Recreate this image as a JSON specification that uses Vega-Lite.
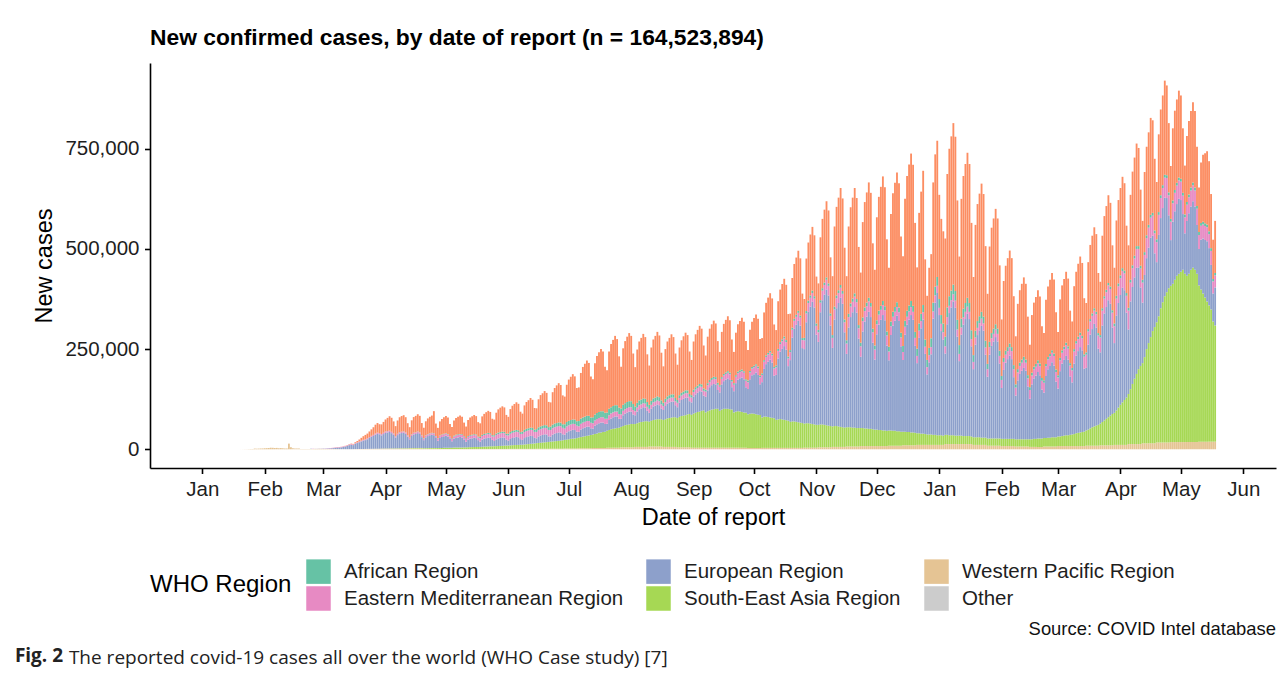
{
"$schema":"https://vega.github.io/schema/vega-lite/v6.json",
"padding":{"left":14,"right":8,"top":27,"bottom":4},
"config":{"font":"Liberation Sans","view":{"stroke":null},
"axis":{"grid":false,"domainColor":"#000","domainWidth":1.6,"tickColor":"#000","tickWidth":1.6,"tickSize":5.5,"labelFontSize":20.5,"labelColor":"#1e1e1e","titleFontSize":23.5,"titleFontWeight":"normal","titleColor":"#000"}},
"title":{"text":"Fig. 2","orient":"bottom","anchor":"start","font":"Open Sans","fontSize":19,"fontWeight":"bold","color":"#222","offset":0,"dx":-18,"dy":-21},
"resolve":{"scale":{"color":"independent"},"legend":{"color":"independent"}},
"vconcat":[{
"title":{"text":"The reported covid-19 cases all over the world (WHO Case study) [7]","orient":"bottom","anchor":"start","font":"Open Sans","fontSize":19,"fontWeight":"normal","color":"#222","offset":11,"dx":36},
"resolve":{"scale":{"color":"independent"},"legend":{"color":"independent"}},
"vconcat":[{
"title":{"text":"Source: COVID Intel database","orient":"bottom","anchor":"end","fontSize":18.4,"fontWeight":"normal","color":"#111","offset":9},
"resolve":{"scale":{"color":"independent"},"legend":{"color":"independent"}},
"vconcat":[{
"width":1126,"height":405,
"title":{"text":"New confirmed cases, by date of report (n = 164,523,894)","anchor":"start","frame":"group","fontSize":22.8,"fontWeight":"bold","color":"#000","offset":13},
"data":{"values":[
{"d":"2020-01-20","w":80},{"d":"2020-01-21","w":150},{"d":"2020-01-22","w":250},{"d":"2020-01-23","w":270},{"d":"2020-01-24","w":470},{"d":"2020-01-25","w":690},{"d":"2020-01-26","w":770},
{"d":"2020-01-27","w":1770},{"d":"2020-01-28","w":1460},{"d":"2020-01-29","w":1740},{"d":"2020-01-30","w":1980},{"d":"2020-01-31","w":2100},{"d":"2020-02-01","w":2590},{"d":"2020-02-02","w":2830},
{"d":"2020-02-03","w":3240},{"d":"2020-02-04","w":3880},{"d":"2020-02-05","w":3690},{"d":"2020-02-06","w":3140},{"d":"2020-02-07","w":3390,"o":40},{"d":"2020-02-08","w":2650},{"d":"2020-02-09","w":2970},
{"d":"2020-02-10","w":2470,"o":65},{"d":"2020-02-11","w":2020},{"d":"2020-02-12","w":2000},{"d":"2020-02-13","w":14110,"o":44},{"d":"2020-02-14","w":5090},{"d":"2020-02-15","w":2640,"o":67},{"d":"2020-02-16","w":2010,"o":70},
{"d":"2020-02-17","w":1900,"o":99},{"d":"2020-02-18","w":1800,"o":88},{"d":"2020-02-19","w":450,"o":79},{"d":"2020-02-20","w":950,"o":13},{"d":"2020-02-21","w":950},{"d":"2020-02-22","w":900},{"d":"2020-02-23","w":800},
{"d":"2020-02-24","w":1000,"e":70,"m":30},{"d":"2020-02-25","w":900,"e":100,"m":50},{"d":"2020-02-26","w":1000,"e":150,"m":100},{"d":"2020-02-27","w":900,"e":250,"m":150},{"d":"2020-02-28","w":1200,"e":300,"m":150},{"d":"2020-02-29","w":1000,"e":400,"m":200},{"d":"2020-03-01","w":1000,"e":600,"m":300},
{"d":"2020-03-02","w":800,"e":700,"m":400,"a":20},{"d":"2020-03-03","w":700,"e":1000,"m":600,"a":30},{"d":"2020-03-04","w":700,"e":1400,"m":700,"a":50},{"d":"2020-03-05","w":600,"e":1800,"m":900,"a":80},{"d":"2020-03-06","w":600,"e":2200,"m":1000,"a":100},{"d":"2020-03-07","w":600,"e":2800,"m":1100,"a":150},{"d":"2020-03-08","w":500,"e":3500,"m":1200,"a":200},
{"d":"2020-03-09","w":400,"s":10,"e":4000,"m":1000,"f":10,"a":200},{"d":"2020-03-10","w":300,"s":10,"e":4500,"m":1200,"f":10,"a":300},{"d":"2020-03-11","w":300,"s":20,"e":5500,"m":1300,"f":20,"a":400},{"d":"2020-03-12","w":300,"s":20,"e":6500,"m":1300,"f":20,"a":500},{"d":"2020-03-13","w":300,"s":20,"e":8000,"m":1400,"f":30,"a":700},{"d":"2020-03-14","w":300,"s":30,"e":10e3,"m":1500,"f":40,"a":900},{"d":"2020-03-15","w":300,"s":30,"e":11e3,"m":1600,"f":50,"a":1200},
{"d":"2020-03-16","w":400,"s":30,"e":10e3,"m":1500,"f":60,"a":1500},{"d":"2020-03-17","w":500,"s":50,"e":13e3,"m":1500,"f":80,"a":2500},{"d":"2020-03-18","w":500,"s":50,"e":15e3,"m":1600,"f":100,"a":3500},{"d":"2020-03-19","w":600,"s":60,"e":17e3,"m":1600,"f":120,"a":5000},{"d":"2020-03-20","w":700,"s":70,"e":19e3,"m":1700,"f":150,"a":7000},{"d":"2020-03-21","w":700,"s":80,"e":21e3,"m":1700,"f":180,"a":9000},{"d":"2020-03-22","w":800,"s":100,"e":22e3,"m":1800,"f":200,"a":11e3},
{"d":"2020-03-23","w":900,"s":100,"e":24e3,"m":2000,"f":200,"a":12e3},{"d":"2020-03-24","w":1000,"s":100,"e":27e3,"m":2200,"f":200,"a":14e3},{"d":"2020-03-25","w":1000,"s":150,"e":30e3,"m":2300,"f":250,"a":16e3},{"d":"2020-03-26","w":1100,"s":150,"e":32e3,"m":2500,"f":250,"a":19e3},{"d":"2020-03-27","w":1200,"s":200,"e":35e3,"m":2700,"f":300,"a":22e3},{"d":"2020-03-28","w":1200,"s":200,"e":37e3,"m":2800,"f":300,"a":24e3},{"d":"2020-03-29","w":1200,"s":250,"e":36e3,"m":2800,"f":300,"a":22e3},
{"d":"2020-03-30","w":1500,"s":300,"e":33e3,"m":3000,"f":400,"a":24e3},{"d":"2020-03-31","w":1500,"s":400,"e":36e3,"m":3000,"f":400,"a":27e3},{"d":"2020-04-01","w":1500,"s":500,"e":39e3,"m":3000,"f":400,"a":30e3},{"d":"2020-04-02","w":1500,"s":500,"e":40e3,"m":3000,"f":400,"a":33e3},{"d":"2020-04-03","w":1500,"s":600,"e":41e3,"m":3000,"f":400,"a":36e3},{"d":"2020-04-04","w":1500,"s":700,"e":38e3,"m":3000,"f":400,"a":35e3},{"d":"2020-04-05","w":1500,"s":700,"e":34e3,"m":3000,"f":400,"a":30e3},
{"d":"2020-04-06","w":1500,"s":800,"e":27e3,"m":3000,"f":500,"a":25e3},{"d":"2020-04-07","w":1500,"s":900,"e":33e3,"m":3000,"f":500,"a":33e3},{"d":"2020-04-08","w":1500,"s":1000,"e":37e3,"m":3000,"f":500,"a":37e3},{"d":"2020-04-09","w":1500,"s":1000,"e":38e3,"m":3000,"f":500,"a":39e3},{"d":"2020-04-10","w":1500,"s":1100,"e":39e3,"m":3000,"f":500,"a":40e3},{"d":"2020-04-11","w":1500,"s":1100,"e":36e3,"m":3000,"f":500,"a":38e3},{"d":"2020-04-12","w":1500,"s":1100,"e":29e3,"m":3000,"f":500,"a":30e3},
{"d":"2020-04-13","w":1800,"s":1200,"e":22e3,"m":3500,"f":700,"a":26e3},{"d":"2020-04-14","w":1800,"s":1300,"e":30e3,"m":3500,"f":700,"a":35e3},{"d":"2020-04-15","w":1800,"s":1400,"e":34e3,"m":3500,"f":700,"a":39e3},{"d":"2020-04-16","w":1800,"s":1400,"e":35e3,"m":3500,"f":700,"a":41e3},{"d":"2020-04-17","w":1800,"s":1500,"e":37e3,"m":3500,"f":700,"a":43e3},{"d":"2020-04-18","w":1800,"s":1500,"e":35e3,"m":3500,"f":700,"a":41e3},{"d":"2020-04-19","w":1800,"s":1500,"e":27e3,"m":3500,"f":700,"a":31e3},
{"d":"2020-04-20","w":1200,"s":1600,"e":20e3,"m":4000,"f":1000,"a":26e3},{"d":"2020-04-21","w":1200,"s":1700,"e":27e3,"m":4000,"f":1000,"a":35e3},{"d":"2020-04-22","w":1200,"s":1800,"e":30e3,"m":4000,"f":1000,"a":39e3},{"d":"2020-04-23","w":1200,"s":1900,"e":32e3,"m":4000,"f":1000,"a":41e3},{"d":"2020-04-24","w":1200,"s":2000,"e":33e3,"m":4000,"f":1000,"a":43e3},{"d":"2020-04-25","w":1200,"s":2000,"e":32e3,"m":4000,"f":1000,"a":55e3},{"d":"2020-04-26","w":1200,"s":2000,"e":25e3,"m":4000,"f":1000,"a":31e3},
{"d":"2020-04-27","w":1000,"s":2200,"e":18e3,"m":5000,"f":1300,"a":26e3},{"d":"2020-04-28","w":1000,"s":2300,"e":25e3,"m":5000,"f":1300,"a":35e3},{"d":"2020-04-29","w":1000,"s":2500,"e":27e3,"m":5000,"f":1300,"a":39e3},{"d":"2020-04-30","w":1000,"s":2600,"e":29e3,"m":5000,"f":1300,"a":41e3},{"d":"2020-05-01","w":1000,"s":2700,"e":30e3,"m":5000,"f":1300,"a":43e3},{"d":"2020-05-02","w":1000,"s":2800,"e":28e3,"m":5000,"f":1300,"a":41e3},{"d":"2020-05-03","w":1000,"s":2800,"e":22e3,"m":5000,"f":1300,"a":31e3},
{"d":"2020-05-04","w":900,"s":3000,"e":16e3,"m":6000,"f":1800,"a":28e3},{"d":"2020-05-05","w":900,"s":3300,"e":22e3,"m":6000,"f":1800,"a":38e3},{"d":"2020-05-06","w":900,"s":3500,"e":24e3,"m":6000,"f":1800,"a":42e3},{"d":"2020-05-07","w":900,"s":3600,"e":25e3,"m":6000,"f":1800,"a":44e3},{"d":"2020-05-08","w":900,"s":3700,"e":26e3,"m":6000,"f":1800,"a":46e3},{"d":"2020-05-09","w":900,"s":3800,"e":25e3,"m":6000,"f":1800,"a":44e3},{"d":"2020-05-10","w":900,"s":3900,"e":20e3,"m":6000,"f":1800,"a":34e3},
{"d":"2020-05-11","w":800,"s":4000,"e":14e3,"m":7000,"f":2000,"a":29e3},{"d":"2020-05-12","w":800,"s":4300,"e":19e3,"m":7000,"f":2000,"a":40e3},{"d":"2020-05-13","w":800,"s":4500,"e":21e3,"m":7000,"f":2000,"a":44e3},{"d":"2020-05-14","w":800,"s":4600,"e":22e3,"m":7000,"f":2000,"a":46e3},{"d":"2020-05-15","w":800,"s":4800,"e":23e3,"m":7000,"f":2000,"a":48e3},{"d":"2020-05-16","w":800,"s":5000,"e":22e3,"m":7000,"f":2000,"a":46e3},{"d":"2020-05-17","w":800,"s":5000,"e":17e3,"m":7000,"f":2000,"a":36e3},
{"d":"2020-05-18","w":800,"s":5200,"e":13e3,"m":9000,"f":2800,"a":34e3},{"d":"2020-05-19","w":800,"s":5500,"e":18e3,"m":9000,"f":2800,"a":46e3},{"d":"2020-05-20","w":800,"s":5800,"e":20e3,"m":9000,"f":2800,"a":50e3},{"d":"2020-05-21","w":800,"s":6000,"e":21e3,"m":9000,"f":2800,"a":53e3},{"d":"2020-05-22","w":800,"s":6300,"e":22e3,"m":9000,"f":2800,"a":55e3},{"d":"2020-05-23","w":800,"s":6600,"e":21e3,"m":9000,"f":2800,"a":53e3},{"d":"2020-05-24","w":800,"s":6600,"e":16e3,"m":9000,"f":2800,"a":41e3},
{"d":"2020-05-25","w":800,"s":6800,"e":13e3,"m":11e3,"f":3500,"a":39e3},{"d":"2020-05-26","w":800,"s":7000,"e":17e3,"m":11e3,"f":3500,"a":52e3},{"d":"2020-05-27","w":800,"s":7300,"e":19e3,"m":11e3,"f":3500,"a":58e3},{"d":"2020-05-28","w":800,"s":7600,"e":20e3,"m":11e3,"f":3500,"a":61e3},{"d":"2020-05-29","w":800,"s":7900,"e":21e3,"m":11e3,"f":3500,"a":63e3},{"d":"2020-05-30","w":800,"s":8200,"e":20e3,"m":11e3,"f":3500,"a":61e3},{"d":"2020-05-31","w":800,"s":8500,"e":15e3,"m":11e3,"f":3500,"a":47e3},
{"d":"2020-06-01","w":1000,"s":8500,"e":12e3,"m":13e3,"f":4500,"a":42e3},{"d":"2020-06-02","w":1000,"s":8800,"e":16e3,"m":13e3,"f":4500,"a":57e3},{"d":"2020-06-03","w":1000,"s":9200,"e":18e3,"m":13e3,"f":4500,"a":63e3},{"d":"2020-06-04","w":1000,"s":9500,"e":19e3,"m":13e3,"f":4500,"a":66e3},{"d":"2020-06-05","w":1000,"s":9800,"e":20e3,"m":13e3,"f":4500,"a":69e3},{"d":"2020-06-06","w":1000,"s":10e3,"e":19e3,"m":13e3,"f":4500,"a":66e3},{"d":"2020-06-07","w":1000,"s":10300,"e":14e3,"m":13e3,"f":4500,"a":51e3},
{"d":"2020-06-08","w":1000,"s":10500,"e":12e3,"m":15e3,"f":5500,"a":45e3},{"d":"2020-06-09","w":1000,"s":11e3,"e":16e3,"m":15e3,"f":5500,"a":61e3},{"d":"2020-06-10","w":1000,"s":11500,"e":18e3,"m":15e3,"f":5500,"a":67e3},{"d":"2020-06-11","w":1000,"s":12e3,"e":19e3,"m":15e3,"f":5500,"a":70e3},{"d":"2020-06-12","w":1000,"s":12500,"e":20e3,"m":15e3,"f":5500,"a":74e3},{"d":"2020-06-13","w":1000,"s":13e3,"e":19e3,"m":15e3,"f":5500,"a":70e3},{"d":"2020-06-14","w":1000,"s":13500,"e":14e3,"m":15e3,"f":5500,"a":54e3},
{"d":"2020-06-15","w":1300,"s":14e3,"e":12e3,"m":16e3,"f":7000,"a":52e3},{"d":"2020-06-16","w":1300,"s":14500,"e":16e3,"m":16e3,"f":7000,"a":70e3},{"d":"2020-06-17","w":1300,"s":15e3,"e":18e3,"m":16e3,"f":7000,"a":78e3},{"d":"2020-06-18","w":1300,"s":15500,"e":19e3,"m":16e3,"f":7000,"a":81e3},{"d":"2020-06-19","w":1300,"s":16e3,"e":20e3,"m":16e3,"f":7000,"a":85e3},{"d":"2020-06-20","w":1300,"s":16500,"e":19e3,"m":16e3,"f":7000,"a":81e3},{"d":"2020-06-21","w":1300,"s":17e3,"e":14e3,"m":16e3,"f":7000,"a":63e3},
{"d":"2020-06-22","w":1500,"s":17500,"e":13e3,"m":16e3,"f":9000,"a":60e3},{"d":"2020-06-23","w":1500,"s":18e3,"e":17e3,"m":16e3,"f":9000,"a":81e3},{"d":"2020-06-24","w":1500,"s":18500,"e":19e3,"m":16e3,"f":9000,"a":89e3},{"d":"2020-06-25","w":1500,"s":19e3,"e":20e3,"m":16e3,"f":9000,"a":94e3},{"d":"2020-06-26","w":1500,"s":19500,"e":21e3,"m":16e3,"f":9000,"a":98e3},{"d":"2020-06-27","w":1500,"s":20e3,"e":20e3,"m":16e3,"f":9000,"a":94e3},{"d":"2020-06-28","w":1500,"s":21e3,"e":15e3,"m":16e3,"f":9000,"a":72e3},
{"d":"2020-06-29","w":2000,"s":21500,"e":13e3,"m":15e3,"f":11e3,"a":69e3},{"d":"2020-06-30","w":2000,"s":22e3,"e":18e3,"m":15e3,"f":11e3,"a":93e3},{"d":"2020-07-01","w":2000,"s":23e3,"e":20e3,"m":15e3,"f":11e3,"a":103e3},{"d":"2020-07-02","w":2000,"s":24e3,"e":21e3,"m":15e3,"f":11e3,"a":108e3},{"d":"2020-07-03","w":2000,"s":24500,"e":22e3,"m":15e3,"f":11e3,"a":113e3},{"d":"2020-07-04","w":2000,"s":25e3,"e":21e3,"m":15e3,"f":11e3,"a":108e3},{"d":"2020-07-05","w":2000,"s":26e3,"e":16e3,"m":15e3,"f":11e3,"a":83e3},
{"d":"2020-07-06","w":2500,"s":27e3,"e":14e3,"m":14e3,"f":13e3,"a":84e3},{"d":"2020-07-07","w":2500,"s":28e3,"e":19e3,"m":14e3,"f":13e3,"a":114e3},{"d":"2020-07-08","w":2500,"s":29e3,"e":21e3,"m":14e3,"f":13e3,"a":126e3},{"d":"2020-07-09","w":2500,"s":30e3,"e":22e3,"m":14e3,"f":13e3,"a":132e3},{"d":"2020-07-10","w":2500,"s":31e3,"e":23e3,"m":14e3,"f":13e3,"a":138e3},{"d":"2020-07-11","w":2500,"s":32e3,"e":22e3,"m":14e3,"f":13e3,"a":132e3},{"d":"2020-07-12","w":2500,"s":33e3,"e":17e3,"m":14e3,"f":13e3,"a":102e3},
{"d":"2020-07-13","w":3000,"s":34e3,"e":15e3,"m":13e3,"f":15e3,"a":95e3},{"d":"2020-07-14","w":3000,"s":35e3,"e":21e3,"m":13e3,"f":15e3,"a":128e3},{"d":"2020-07-15","w":3000,"s":36500,"e":23e3,"m":13e3,"f":15e3,"a":142e3},{"d":"2020-07-16","w":3000,"s":38e3,"e":24e3,"m":13e3,"f":15e3,"a":149e3},{"d":"2020-07-17","w":3000,"s":39e3,"e":25e3,"m":13e3,"f":15e3,"a":155e3},{"d":"2020-07-18","w":3000,"s":40e3,"e":24e3,"m":13e3,"f":15e3,"a":149e3},{"d":"2020-07-19","w":3000,"s":41e3,"e":19e3,"m":13e3,"f":15e3,"a":115e3},
{"d":"2020-07-20","w":4000,"s":42e3,"e":18e3,"m":12e3,"f":16e3,"a":105e3},{"d":"2020-07-21","w":4000,"s":44e3,"e":25e3,"m":12e3,"f":16e3,"a":143e3},{"d":"2020-07-22","w":4000,"s":46e3,"e":27e3,"m":12e3,"f":16e3,"a":158e3},{"d":"2020-07-23","w":4000,"s":47e3,"e":29e3,"m":12e3,"f":16e3,"a":165e3},{"d":"2020-07-24","w":4000,"s":48e3,"e":30e3,"m":12e3,"f":16e3,"a":173e3},{"d":"2020-07-25","w":4000,"s":49e3,"e":29e3,"m":12e3,"f":16e3,"a":165e3},{"d":"2020-07-26","w":4000,"s":50e3,"e":22e3,"m":12e3,"f":16e3,"a":128e3},
{"d":"2020-07-27","w":5000,"s":51e3,"e":20e3,"m":11e3,"f":15e3,"a":104e3},{"d":"2020-07-28","w":5000,"s":53e3,"e":27e3,"m":11e3,"f":15e3,"a":141e3},{"d":"2020-07-29","w":5000,"s":55e3,"e":29e3,"m":11e3,"f":15e3,"a":155e3},{"d":"2020-07-30","w":5000,"s":56e3,"e":31e3,"m":11e3,"f":15e3,"a":163e3},{"d":"2020-07-31","w":5000,"s":57e3,"e":32e3,"m":11e3,"f":15e3,"a":170e3},{"d":"2020-08-01","w":5000,"s":58e3,"e":31e3,"m":11e3,"f":15e3,"a":163e3},{"d":"2020-08-02","w":5000,"s":58e3,"e":24e3,"m":11e3,"f":15e3,"a":126e3},
{"d":"2020-08-03","w":6000,"s":57e3,"e":22e3,"m":10e3,"f":12e3,"a":98e3},{"d":"2020-08-04","w":6000,"s":59e3,"e":29e3,"m":10e3,"f":12e3,"a":133e3},{"d":"2020-08-05","w":6000,"s":61e3,"e":33e3,"m":10e3,"f":12e3,"a":147e3},{"d":"2020-08-06","w":6000,"s":62e3,"e":34e3,"m":10e3,"f":12e3,"a":154e3},{"d":"2020-08-07","w":6000,"s":63e3,"e":36e3,"m":10e3,"f":12e3,"a":161e3},{"d":"2020-08-08","w":6000,"s":64e3,"e":34e3,"m":10e3,"f":12e3,"a":154e3},{"d":"2020-08-09","w":6000,"s":64e3,"e":26e3,"m":10e3,"f":12e3,"a":119e3},
{"d":"2020-08-10","w":7000,"s":62e3,"e":22e3,"m":10e3,"f":10e3,"a":98e3},{"d":"2020-08-11","w":7000,"s":64e3,"e":30e3,"m":10e3,"f":10e3,"a":133e3},{"d":"2020-08-12","w":7000,"s":66e3,"e":34e3,"m":10e3,"f":10e3,"a":147e3},{"d":"2020-08-13","w":7000,"s":67e3,"e":35e3,"m":10e3,"f":10e3,"a":154e3},{"d":"2020-08-14","w":7000,"s":68e3,"e":37e3,"m":10e3,"f":10e3,"a":161e3},{"d":"2020-08-15","w":7000,"s":68e3,"e":35e3,"m":10e3,"f":10e3,"a":154e3},{"d":"2020-08-16","w":7000,"s":68e3,"e":27e3,"m":10e3,"f":10e3,"a":119e3},
{"d":"2020-08-17","w":6000,"s":67e3,"e":25e3,"m":10e3,"f":8000,"a":91e3},{"d":"2020-08-18","w":6000,"s":69e3,"e":33e3,"m":10e3,"f":8000,"a":124e3},{"d":"2020-08-19","w":6000,"s":71e3,"e":37e3,"m":10e3,"f":8000,"a":137e3},{"d":"2020-08-20","w":6000,"s":72e3,"e":39e3,"m":10e3,"f":8000,"a":143e3},{"d":"2020-08-21","w":6000,"s":73e3,"e":40e3,"m":10e3,"f":8000,"a":150e3},{"d":"2020-08-22","w":6000,"s":74e3,"e":39e3,"m":10e3,"f":8000,"a":143e3},{"d":"2020-08-23","w":6000,"s":74e3,"e":30e3,"m":10e3,"f":8000,"a":111e3},
{"d":"2020-08-24","w":5000,"s":73e3,"e":27e3,"m":11e3,"f":7000,"a":88e3},{"d":"2020-08-25","w":5000,"s":76e3,"e":36e3,"m":11e3,"f":7000,"a":119e3},{"d":"2020-08-26","w":5000,"s":78e3,"e":40e3,"m":11e3,"f":7000,"a":131e3},{"d":"2020-08-27","w":5000,"s":79e3,"e":42e3,"m":11e3,"f":7000,"a":138e3},{"d":"2020-08-28","w":5000,"s":80e3,"e":44e3,"m":11e3,"f":7000,"a":144e3},{"d":"2020-08-29","w":5000,"s":82e3,"e":42e3,"m":11e3,"f":7000,"a":138e3},{"d":"2020-08-30","w":5000,"s":83e3,"e":32e3,"m":11e3,"f":7000,"a":106e3},
{"d":"2020-08-31","w":4000,"s":82e3,"e":31e3,"m":12e3,"f":6000,"a":88e3},{"d":"2020-09-01","w":4000,"s":85e3,"e":42e3,"m":12e3,"f":6000,"a":120e3},{"d":"2020-09-02","w":4000,"s":87e3,"e":46e3,"m":12e3,"f":6000,"a":132e3},{"d":"2020-09-03","w":4000,"s":89e3,"e":48e3,"m":12e3,"f":6000,"a":139e3},{"d":"2020-09-04","w":4000,"s":90e3,"e":51e3,"m":12e3,"f":6000,"a":145e3},{"d":"2020-09-05","w":4000,"s":92e3,"e":48e3,"m":12e3,"f":6000,"a":139e3},{"d":"2020-09-06","w":4000,"s":93e3,"e":37e3,"m":12e3,"f":6000,"a":107e3},
{"d":"2020-09-07","w":4000,"s":88e3,"e":39e3,"m":13e3,"f":5000,"a":85e3},{"d":"2020-09-08","w":4000,"s":91e3,"e":52e3,"m":13e3,"f":5000,"a":116e3},{"d":"2020-09-09","w":4000,"s":93e3,"e":58e3,"m":13e3,"f":5000,"a":128e3},{"d":"2020-09-10","w":4000,"s":95e3,"e":61e3,"m":13e3,"f":5000,"a":134e3},{"d":"2020-09-11","w":4000,"s":96e3,"e":63e3,"m":13e3,"f":5000,"a":140e3},{"d":"2020-09-12","w":4000,"s":97e3,"e":61e3,"m":13e3,"f":5000,"a":134e3},{"d":"2020-09-13","w":4000,"s":97e3,"e":47e3,"m":13e3,"f":5000,"a":104e3},
{"d":"2020-09-14","w":4000,"s":92e3,"e":46e3,"m":14e3,"f":4000,"a":83e3},{"d":"2020-09-15","w":4000,"s":95e3,"e":63e3,"m":14e3,"f":4000,"a":113e3},{"d":"2020-09-16","w":4000,"s":97e3,"e":69e3,"m":14e3,"f":4000,"a":125e3},{"d":"2020-09-17","w":4000,"s":97e3,"e":73e3,"m":14e3,"f":4000,"a":131e3},{"d":"2020-09-18","w":4000,"s":97e3,"e":76e3,"m":14e3,"f":4000,"a":137e3},{"d":"2020-09-19","w":4000,"s":96e3,"e":73e3,"m":14e3,"f":4000,"a":131e3},{"d":"2020-09-20","w":4000,"s":95e3,"e":56e3,"m":14e3,"f":4000,"a":101e3},
{"d":"2020-09-21","w":4000,"s":88e3,"e":53e3,"m":16e3,"f":4000,"a":78e3},{"d":"2020-09-22","w":4000,"s":90e3,"e":71e3,"m":16e3,"f":4000,"a":106e3},{"d":"2020-09-23","w":4000,"s":91e3,"e":79e3,"m":16e3,"f":4000,"a":118e3},{"d":"2020-09-24","w":4000,"s":90e3,"e":83e3,"m":16e3,"f":4000,"a":123e3},{"d":"2020-09-25","w":4000,"s":89e3,"e":86e3,"m":16e3,"f":4000,"a":129e3},{"d":"2020-09-26","w":4000,"s":88e3,"e":83e3,"m":16e3,"f":4000,"a":123e3},{"d":"2020-09-27","w":4000,"s":87e3,"e":64e3,"m":16e3,"f":4000,"a":95e3},
{"d":"2020-09-28","w":3500,"s":84e3,"e":63e3,"m":17e3,"f":4000,"a":76e3},{"d":"2020-09-29","w":3500,"s":85e3,"e":86e3,"m":17e3,"f":4000,"a":103e3},{"d":"2020-09-30","w":3500,"s":86e3,"e":95e3,"m":17e3,"f":4000,"a":113e3},{"d":"2020-10-01","w":3500,"s":85e3,"e":99e3,"m":17e3,"f":4000,"a":119e3},{"d":"2020-10-02","w":3500,"s":84e3,"e":104e3,"m":17e3,"f":4000,"a":124e3},{"d":"2020-10-03","w":3500,"s":83e3,"e":99e3,"m":17e3,"f":4000,"a":119e3},{"d":"2020-10-04","w":3500,"s":82e3,"e":77e3,"m":17e3,"f":4000,"a":92e3},
{"d":"2020-10-05","w":3500,"s":76e3,"e":88e3,"m":18e3,"f":4000,"a":88e3},{"d":"2020-10-06","w":3500,"s":78e3,"e":119e3,"m":18e3,"f":4000,"a":119e3},{"d":"2020-10-07","w":3500,"s":78e3,"e":131e3,"m":18e3,"f":4000,"a":131e3},{"d":"2020-10-08","w":3500,"s":77e3,"e":138e3,"m":18e3,"f":4000,"a":138e3},{"d":"2020-10-09","w":3500,"s":76e3,"e":144e3,"m":18e3,"f":4000,"a":144e3},{"d":"2020-10-10","w":3500,"s":75e3,"e":138e3,"m":18e3,"f":4000,"a":138e3},{"d":"2020-10-11","w":3500,"s":74e3,"e":106e3,"m":18e3,"f":4000,"a":106e3},
{"d":"2020-10-12","w":3500,"s":70e3,"e":112e3,"m":19e3,"f":5000,"a":88e3},{"d":"2020-10-13","w":3500,"s":71e3,"e":152e3,"m":19e3,"f":5000,"a":119e3},{"d":"2020-10-14","w":3500,"s":72e3,"e":168e3,"m":19e3,"f":5000,"a":131e3},{"d":"2020-10-15","w":3500,"s":71e3,"e":176e3,"m":19e3,"f":5000,"a":138e3},{"d":"2020-10-16","w":3500,"s":70e3,"e":184e3,"m":19e3,"f":5000,"a":144e3},{"d":"2020-10-17","w":3500,"s":69e3,"e":176e3,"m":19e3,"f":5000,"a":138e3},{"d":"2020-10-18","w":3500,"s":68e3,"e":136e3,"m":19e3,"f":5000,"a":106e3},
{"d":"2020-10-19","w":3500,"s":65e3,"e":154e3,"m":20e3,"f":5000,"a":91e3},{"d":"2020-10-20","w":3500,"s":66e3,"e":209e3,"m":20e3,"f":5000,"a":124e3},{"d":"2020-10-21","w":3500,"s":66e3,"e":231e3,"m":20e3,"f":5000,"a":137e3},{"d":"2020-10-22","w":3500,"s":65e3,"e":242e3,"m":20e3,"f":5000,"a":143e3},{"d":"2020-10-23","w":3500,"s":64e3,"e":253e3,"m":20e3,"f":5000,"a":150e3},{"d":"2020-10-24","w":3500,"s":63e3,"e":242e3,"m":20e3,"f":5000,"a":143e3},{"d":"2020-10-25","w":3500,"s":62e3,"e":187e3,"m":20e3,"f":5000,"a":111e3},
{"d":"2020-10-26","w":4000,"s":60e3,"e":186e3,"m":22e3,"f":6000,"a":97e3},{"d":"2020-10-27","w":4000,"s":61e3,"e":252e3,"m":22e3,"f":6000,"a":131e3},{"d":"2020-10-28","w":4000,"s":61e3,"e":278e3,"m":22e3,"f":6000,"a":145e3},{"d":"2020-10-29","w":4000,"s":60e3,"e":292e3,"m":22e3,"f":6000,"a":152e3},{"d":"2020-10-30","w":4000,"s":59e3,"e":305e3,"m":22e3,"f":6000,"a":159e3},{"d":"2020-10-31","w":4000,"s":58e3,"e":292e3,"m":22e3,"f":6000,"a":152e3},{"d":"2020-11-01","w":4000,"s":57e3,"e":225e3,"m":22e3,"f":6000,"a":117e3},
{"d":"2020-11-02","w":5000,"s":56e3,"e":207e3,"m":24e3,"f":6000,"a":116e3},{"d":"2020-11-03","w":5000,"s":57e3,"e":280e3,"m":24e3,"f":6000,"a":157e3},{"d":"2020-11-04","w":5000,"s":57e3,"e":310e3,"m":24e3,"f":6000,"a":173e3},{"d":"2020-11-05","w":5000,"s":56e3,"e":325e3,"m":24e3,"f":6000,"a":182e3},{"d":"2020-11-06","w":5000,"s":55e3,"e":339e3,"m":24e3,"f":6000,"a":190e3},{"d":"2020-11-07","w":5000,"s":54e3,"e":325e3,"m":24e3,"f":6000,"a":182e3},{"d":"2020-11-08","w":5000,"s":53e3,"e":251e3,"m":24e3,"f":6000,"a":140e3},
{"d":"2020-11-09","w":6000,"s":51e3,"e":196e3,"m":25e3,"f":7000,"a":147e3},{"d":"2020-11-10","w":6000,"s":52e3,"e":266e3,"m":25e3,"f":7000,"a":200e3},{"d":"2020-11-11","w":6000,"s":52e3,"e":294e3,"m":25e3,"f":7000,"a":221e3},{"d":"2020-11-12","w":6000,"s":51e3,"e":308e3,"m":25e3,"f":7000,"a":231e3},{"d":"2020-11-13","w":6000,"s":50e3,"e":322e3,"m":25e3,"f":7000,"a":242e3},{"d":"2020-11-14","w":6000,"s":49e3,"e":308e3,"m":25e3,"f":7000,"a":231e3},{"d":"2020-11-15","w":6000,"s":48e3,"e":238e3,"m":25e3,"f":7000,"a":179e3},
{"d":"2020-11-16","w":7000,"s":48e3,"e":183e3,"m":26e3,"f":8000,"a":160e3},{"d":"2020-11-17","w":7000,"s":48e3,"e":249e3,"m":26e3,"f":8000,"a":218e3},{"d":"2020-11-18","w":7000,"s":48e3,"e":275e3,"m":26e3,"f":8000,"a":240e3},{"d":"2020-11-19","w":7000,"s":47e3,"e":288e3,"m":26e3,"f":8000,"a":252e3},{"d":"2020-11-20","w":7000,"s":47e3,"e":301e3,"m":26e3,"f":8000,"a":263e3},{"d":"2020-11-21","w":7000,"s":46e3,"e":288e3,"m":26e3,"f":8000,"a":252e3},{"d":"2020-11-22","w":7000,"s":46e3,"e":223e3,"m":26e3,"f":8000,"a":195e3},
{"d":"2020-11-23","w":8000,"s":45e3,"e":178e3,"m":26e3,"f":9000,"a":175e3},{"d":"2020-11-24","w":8000,"s":45e3,"e":241e3,"m":26e3,"f":9000,"a":238e3},{"d":"2020-11-25","w":8000,"s":44e3,"e":267e3,"m":26e3,"f":9000,"a":263e3},{"d":"2020-11-26","w":8000,"s":44e3,"e":279e3,"m":26e3,"f":9000,"a":275e3},{"d":"2020-11-27","w":8000,"s":43e3,"e":292e3,"m":26e3,"f":9000,"a":288e3},{"d":"2020-11-28","w":8000,"s":43e3,"e":279e3,"m":26e3,"f":9000,"a":275e3},{"d":"2020-11-29","w":8000,"s":42e3,"e":216e3,"m":26e3,"f":9000,"a":213e3},
{"d":"2020-11-30","w":8000,"s":41e3,"e":175e3,"m":25e3,"f":10e3,"a":189e3},{"d":"2020-12-01","w":8000,"s":41e3,"e":238e3,"m":25e3,"f":10e3,"a":257e3},{"d":"2020-12-02","w":8000,"s":40e3,"e":263e3,"m":25e3,"f":10e3,"a":284e3},{"d":"2020-12-03","w":8000,"s":40e3,"e":275e3,"m":25e3,"f":10e3,"a":297e3},{"d":"2020-12-04","w":8000,"s":39e3,"e":288e3,"m":25e3,"f":10e3,"a":311e3},{"d":"2020-12-05","w":8000,"s":39e3,"e":275e3,"m":25e3,"f":10e3,"a":297e3},{"d":"2020-12-06","w":8000,"s":38e3,"e":213e3,"m":25e3,"f":10e3,"a":230e3},
{"d":"2020-12-07","w":9000,"s":38e3,"e":175e3,"m":22e3,"f":12e3,"a":197e3},{"d":"2020-12-08","w":9000,"s":38e3,"e":238e3,"m":22e3,"f":12e3,"a":268e3},{"d":"2020-12-09","w":9000,"s":37e3,"e":263e3,"m":22e3,"f":12e3,"a":296e3},{"d":"2020-12-10","w":9000,"s":37e3,"e":275e3,"m":22e3,"f":12e3,"a":310e3},{"d":"2020-12-11","w":9000,"s":36e3,"e":288e3,"m":22e3,"f":12e3,"a":324e3},{"d":"2020-12-12","w":9000,"s":36e3,"e":275e3,"m":22e3,"f":12e3,"a":310e3},{"d":"2020-12-13","w":9000,"s":35e3,"e":213e3,"m":22e3,"f":12e3,"a":240e3},
{"d":"2020-12-14","w":10e3,"s":34e3,"e":179e3,"m":20e3,"f":15e3,"a":224e3},{"d":"2020-12-15","w":10e3,"s":34e3,"e":242e3,"m":20e3,"f":15e3,"a":304e3},{"d":"2020-12-16","w":10e3,"s":33e3,"e":268e3,"m":20e3,"f":15e3,"a":336e3},{"d":"2020-12-17","w":10e3,"s":33e3,"e":281e3,"m":20e3,"f":15e3,"a":352e3},{"d":"2020-12-18","w":10e3,"s":32e3,"e":293e3,"m":20e3,"f":15e3,"a":368e3},{"d":"2020-12-19","w":10e3,"s":32e3,"e":281e3,"m":20e3,"f":15e3,"a":352e3},{"d":"2020-12-20","w":10e3,"s":31e3,"e":217e3,"m":20e3,"f":15e3,"a":272e3},
{"d":"2020-12-21","w":11e3,"s":29e3,"e":175e3,"m":18e3,"f":18e3,"a":203e3},{"d":"2020-12-22","w":11e3,"s":29e3,"e":238e3,"m":18e3,"f":18e3,"a":276e3},{"d":"2020-12-23","w":11e3,"s":28e3,"e":263e3,"m":18e3,"f":18e3,"a":305e3},{"d":"2020-12-24","w":11e3,"s":28e3,"e":285e3,"m":18e3,"f":18e3,"a":335e3},{"d":"2020-12-25","w":11e3,"s":27e3,"e":200e3,"m":18e3,"f":18e3,"a":200e3},{"d":"2020-12-26","w":11e3,"s":26e3,"e":150e3,"m":18e3,"f":18e3,"a":160e3},{"d":"2020-12-27","w":11e3,"s":26e3,"e":180e3,"m":18e3,"f":18e3,"a":200e3},
{"d":"2020-12-28","w":11e3,"s":26e3,"e":200e3,"m":18e3,"f":22e3,"a":210e3},{"d":"2020-12-29","w":11e3,"s":25e3,"e":290e3,"m":18e3,"f":22e3,"a":300e3},{"d":"2020-12-30","w":11e3,"s":25e3,"e":330e3,"m":18e3,"f":22e3,"a":330e3},{"d":"2020-12-31","w":11e3,"s":24e3,"e":355e3,"m":18e3,"f":22e3,"a":340e3},{"d":"2021-01-01","w":11e3,"s":24e3,"e":300e3,"m":18e3,"f":22e3,"a":260e3},{"d":"2021-01-02","w":11e3,"s":24e3,"e":260e3,"m":18e3,"f":22e3,"a":240e3},{"d":"2021-01-03","w":11e3,"s":23e3,"e":240e3,"m":18e3,"f":22e3,"a":230e3},
{"d":"2021-01-04","w":13e3,"s":23e3,"e":203e3,"m":18e3,"f":24e3,"a":245e3},{"d":"2021-01-05","w":13e3,"s":23e3,"e":276e3,"m":18e3,"f":24e3,"a":333e3},{"d":"2021-01-06","w":13e3,"s":22e3,"e":305e3,"m":18e3,"f":24e3,"a":368e3},{"d":"2021-01-07","w":13e3,"s":22e3,"e":319e3,"m":18e3,"f":24e3,"a":385e3},{"d":"2021-01-08","w":13e3,"s":22e3,"e":334e3,"m":18e3,"f":24e3,"a":403e3},{"d":"2021-01-09","w":13e3,"s":21e3,"e":319e3,"m":18e3,"f":24e3,"a":385e3},{"d":"2021-01-10","w":13e3,"s":21e3,"e":247e3,"m":18e3,"f":24e3,"a":298e3},
{"d":"2021-01-11","w":13e3,"s":21e3,"e":186e3,"m":18e3,"f":22e3,"a":221e3},{"d":"2021-01-12","w":13e3,"s":21e3,"e":252e3,"m":18e3,"f":22e3,"a":299e3},{"d":"2021-01-13","w":13e3,"s":20e3,"e":278e3,"m":18e3,"f":22e3,"a":331e3},{"d":"2021-01-14","w":13e3,"s":20e3,"e":292e3,"m":18e3,"f":22e3,"a":347e3},{"d":"2021-01-15","w":13e3,"s":20e3,"e":305e3,"m":18e3,"f":22e3,"a":362e3},{"d":"2021-01-16","w":13e3,"s":20e3,"e":292e3,"m":18e3,"f":22e3,"a":347e3},{"d":"2021-01-17","w":13e3,"s":19e3,"e":225e3,"m":18e3,"f":22e3,"a":268e3},
{"d":"2021-01-18","w":11e3,"s":19e3,"e":170e3,"m":18e3,"f":17e3,"a":195e3},{"d":"2021-01-19","w":11e3,"s":19e3,"e":231e3,"m":18e3,"f":17e3,"a":264e3},{"d":"2021-01-20","w":11e3,"s":19e3,"e":255e3,"m":18e3,"f":17e3,"a":292e3},{"d":"2021-01-21","w":11e3,"s":19e3,"e":267e3,"m":18e3,"f":17e3,"a":306e3},{"d":"2021-01-22","w":11e3,"s":18e3,"e":279e3,"m":18e3,"f":17e3,"a":320e3},{"d":"2021-01-23","w":11e3,"s":18e3,"e":267e3,"m":18e3,"f":17e3,"a":306e3},{"d":"2021-01-24","w":11e3,"s":18e3,"e":207e3,"m":18e3,"f":17e3,"a":236e3},
{"d":"2021-01-25","w":9000,"s":18e3,"e":154e3,"m":19e3,"f":13e3,"a":175e3},{"d":"2021-01-26","w":9000,"s":18e3,"e":209e3,"m":19e3,"f":13e3,"a":238e3},{"d":"2021-01-27","w":9000,"s":18e3,"e":231e3,"m":19e3,"f":13e3,"a":263e3},{"d":"2021-01-28","w":9000,"s":18e3,"e":242e3,"m":19e3,"f":13e3,"a":275e3},{"d":"2021-01-29","w":9000,"s":18e3,"e":253e3,"m":19e3,"f":13e3,"a":288e3},{"d":"2021-01-30","w":9000,"s":18e3,"e":242e3,"m":19e3,"f":13e3,"a":275e3},{"d":"2021-01-31","w":9000,"s":18e3,"e":187e3,"m":19e3,"f":13e3,"a":213e3},
{"d":"2021-02-01","w":8000,"s":18e3,"e":127e3,"m":20e3,"f":10e3,"a":141e3},{"d":"2021-02-02","w":8000,"s":18e3,"e":172e3,"m":20e3,"f":10e3,"a":192e3},{"d":"2021-02-03","w":8000,"s":18e3,"e":190e3,"m":20e3,"f":10e3,"a":212e3},{"d":"2021-02-04","w":8000,"s":18e3,"e":199e3,"m":20e3,"f":10e3,"a":222e3},{"d":"2021-02-05","w":8000,"s":18e3,"e":208e3,"m":20e3,"f":10e3,"a":232e3},{"d":"2021-02-06","w":8000,"s":18e3,"e":199e3,"m":20e3,"f":10e3,"a":222e3},{"d":"2021-02-07","w":8000,"s":18e3,"e":154e3,"m":20e3,"f":10e3,"a":172e3},
{"d":"2021-02-08","w":7000,"s":18e3,"e":109e3,"m":20e3,"f":8000,"a":120e3},{"d":"2021-02-09","w":7000,"s":18e3,"e":147e3,"m":20e3,"f":8000,"a":163e3},{"d":"2021-02-10","w":7000,"s":18e3,"e":163e3,"m":20e3,"f":8000,"a":181e3},{"d":"2021-02-11","w":7000,"s":18e3,"e":171e3,"m":20e3,"f":8000,"a":189e3},{"d":"2021-02-12","w":7000,"s":18e3,"e":178e3,"m":20e3,"f":8000,"a":198e3},{"d":"2021-02-13","w":7000,"s":18e3,"e":171e3,"m":20e3,"f":8000,"a":189e3},{"d":"2021-02-14","w":7000,"s":18e3,"e":132e3,"m":20e3,"f":8000,"a":146e3},
{"d":"2021-02-15","w":6000,"s":19e3,"e":101e3,"m":22e3,"f":7000,"a":106e3},{"d":"2021-02-16","w":6000,"s":19e3,"e":137e3,"m":22e3,"f":7000,"a":144e3},{"d":"2021-02-17","w":6000,"s":20e3,"e":151e3,"m":22e3,"f":7000,"a":160e3},{"d":"2021-02-18","w":6000,"s":20e3,"e":158e3,"m":22e3,"f":7000,"a":167e3},{"d":"2021-02-19","w":6000,"s":21e3,"e":166e3,"m":22e3,"f":7000,"a":175e3},{"d":"2021-02-20","w":6000,"s":21e3,"e":158e3,"m":22e3,"f":7000,"a":167e3},{"d":"2021-02-21","w":6000,"s":21e3,"e":122e3,"m":22e3,"f":7000,"a":129e3},
{"d":"2021-02-22","w":7000,"s":21e3,"e":114e3,"m":24e3,"f":6000,"a":118e3},{"d":"2021-02-23","w":7000,"s":21e3,"e":155e3,"m":24e3,"f":6000,"a":160e3},{"d":"2021-02-24","w":7000,"s":22e3,"e":171e3,"m":24e3,"f":6000,"a":176e3},{"d":"2021-02-25","w":7000,"s":22e3,"e":179e3,"m":24e3,"f":6000,"a":185e3},{"d":"2021-02-26","w":7000,"s":23e3,"e":187e3,"m":24e3,"f":6000,"a":193e3},{"d":"2021-02-27","w":7000,"s":23e3,"e":179e3,"m":24e3,"f":6000,"a":185e3},{"d":"2021-02-28","w":7000,"s":23e3,"e":139e3,"m":24e3,"f":6000,"a":143e3},
{"d":"2021-03-01","w":8000,"s":24e3,"e":120e3,"m":27e3,"f":6000,"a":108e3},{"d":"2021-03-02","w":8000,"s":24e3,"e":163e3,"m":27e3,"f":6000,"a":146e3},{"d":"2021-03-03","w":8000,"s":25e3,"e":181e3,"m":27e3,"f":6000,"a":162e3},{"d":"2021-03-04","w":8000,"s":26e3,"e":189e3,"m":27e3,"f":6000,"a":169e3},{"d":"2021-03-05","w":8000,"s":27e3,"e":198e3,"m":27e3,"f":6000,"a":177e3},{"d":"2021-03-06","w":8000,"s":27e3,"e":189e3,"m":27e3,"f":6000,"a":169e3},{"d":"2021-03-07","w":8000,"s":28e3,"e":146e3,"m":27e3,"f":6000,"a":131e3},
{"d":"2021-03-08","w":8000,"s":29e3,"e":130e3,"m":30e3,"f":6000,"a":116e3},{"d":"2021-03-09","w":8000,"s":30e3,"e":176e3,"m":30e3,"f":6000,"a":157e3},{"d":"2021-03-10","w":8000,"s":32e3,"e":194e3,"m":30e3,"f":6000,"a":173e3},{"d":"2021-03-11","w":8000,"s":33e3,"e":204e3,"m":30e3,"f":6000,"a":182e3},{"d":"2021-03-12","w":8000,"s":34e3,"e":213e3,"m":30e3,"f":6000,"a":190e3},{"d":"2021-03-13","w":8000,"s":35e3,"e":204e3,"m":30e3,"f":6000,"a":182e3},{"d":"2021-03-14","w":8000,"s":36e3,"e":157e3,"m":30e3,"f":6000,"a":140e3},
{"d":"2021-03-15","w":9000,"s":38e3,"e":156e3,"m":33e3,"f":6000,"a":123e3},{"d":"2021-03-16","w":9000,"s":40e3,"e":212e3,"m":33e3,"f":6000,"a":167e3},{"d":"2021-03-17","w":9000,"s":43e3,"e":234e3,"m":33e3,"f":6000,"a":185e3},{"d":"2021-03-18","w":9000,"s":46e3,"e":245e3,"m":33e3,"f":6000,"a":194e3},{"d":"2021-03-19","w":9000,"s":48e3,"e":256e3,"m":33e3,"f":6000,"a":202e3},{"d":"2021-03-20","w":9000,"s":50e3,"e":245e3,"m":33e3,"f":6000,"a":194e3},{"d":"2021-03-21","w":9000,"s":52e3,"e":190e3,"m":33e3,"f":6000,"a":150e3},
{"d":"2021-03-22","w":10e3,"s":54e3,"e":178e3,"m":37e3,"f":6000,"a":133e3},{"d":"2021-03-23","w":10e3,"s":58e3,"e":241e3,"m":37e3,"f":6000,"a":181e3},{"d":"2021-03-24","w":10e3,"s":62e3,"e":267e3,"m":37e3,"f":6000,"a":200e3},{"d":"2021-03-25","w":10e3,"s":66e3,"e":279e3,"m":37e3,"f":6000,"a":209e3},{"d":"2021-03-26","w":10e3,"s":70e3,"e":292e3,"m":37e3,"f":6000,"a":219e3},{"d":"2021-03-27","w":10e3,"s":74e3,"e":279e3,"m":37e3,"f":6000,"a":209e3},{"d":"2021-03-28","w":10e3,"s":78e3,"e":216e3,"m":37e3,"f":6000,"a":162e3},
{"d":"2021-03-29","w":11e3,"s":80e3,"e":174e3,"m":42e3,"f":7000,"a":139e3},{"d":"2021-03-30","w":11e3,"s":86e3,"e":237e3,"m":42e3,"f":7000,"a":188e3},{"d":"2021-03-31","w":11e3,"s":93e3,"e":261e3,"m":42e3,"f":7000,"a":208e3},{"d":"2021-04-01","w":11e3,"s":100e3,"e":274e3,"m":42e3,"f":7000,"a":218e3},{"d":"2021-04-02","w":11e3,"s":106e3,"e":286e3,"m":42e3,"f":7000,"a":228e3},{"d":"2021-04-03","w":11e3,"s":112e3,"e":274e3,"m":42e3,"f":7000,"a":218e3},{"d":"2021-04-04","w":11e3,"s":118e3,"e":212e3,"m":42e3,"f":7000,"a":168e3},
{"d":"2021-04-05","w":13e3,"s":125e3,"e":161e3,"m":47e3,"f":7000,"a":156e3},{"d":"2021-04-06","w":13e3,"s":137e3,"e":219e3,"m":47e3,"f":7000,"a":212e3},{"d":"2021-04-07","w":13e3,"s":150e3,"e":242e3,"m":47e3,"f":7000,"a":234e3},{"d":"2021-04-08","w":13e3,"s":163e3,"e":253e3,"m":47e3,"f":7000,"a":245e3},{"d":"2021-04-09","w":13e3,"s":175e3,"e":265e3,"m":47e3,"f":7000,"a":256e3},{"d":"2021-04-10","w":13e3,"s":187e3,"e":253e3,"m":47e3,"f":7000,"a":245e3},{"d":"2021-04-11","w":13e3,"s":195e3,"e":196e3,"m":47e3,"f":7000,"a":190e3},
{"d":"2021-04-12","w":15e3,"s":200e3,"e":151e3,"m":50e3,"f":7000,"a":147e3},{"d":"2021-04-13","w":15e3,"s":215e3,"e":205e3,"m":50e3,"f":7000,"a":200e3},{"d":"2021-04-14","w":15e3,"s":235e3,"e":227e3,"m":50e3,"f":7000,"a":221e3},{"d":"2021-04-15","w":15e3,"s":250e3,"e":238e3,"m":50e3,"f":7000,"a":231e3},{"d":"2021-04-16","w":15e3,"s":265e3,"e":248e3,"m":50e3,"f":7000,"a":242e3},{"d":"2021-04-17","w":15e3,"s":280e3,"e":238e3,"m":50e3,"f":7000,"a":231e3},{"d":"2021-04-18","w":15e3,"s":290e3,"e":184e3,"m":50e3,"f":7000,"a":179e3},
{"d":"2021-04-19","w":17e3,"s":300e3,"e":150e3,"m":50e3,"f":7000,"a":143e3},{"d":"2021-04-20","w":17e3,"s":315e3,"e":203e3,"m":50e3,"f":7000,"a":194e3},{"d":"2021-04-21","w":17e3,"s":335e3,"e":225e3,"m":50e3,"f":7000,"a":214e3},{"d":"2021-04-22","w":17e3,"s":350e3,"e":235e3,"m":50e3,"f":7000,"a":224e3},{"d":"2021-04-23","w":17e3,"s":365e3,"e":246e3,"m":50e3,"f":7000,"a":235e3},{"d":"2021-04-24","w":17e3,"s":375e3,"e":235e3,"m":50e3,"f":7000,"a":224e3},{"d":"2021-04-25","w":17e3,"s":385e3,"e":182e3,"m":50e3,"f":7000,"a":173e3},
{"d":"2021-04-26","w":18e3,"s":390e3,"e":114e3,"m":46e3,"f":7000,"a":132e3},{"d":"2021-04-27","w":18e3,"s":395e3,"e":155e3,"m":46e3,"f":7000,"a":180e3},{"d":"2021-04-28","w":18e3,"s":405e3,"e":171e3,"m":46e3,"f":7000,"a":198e3},{"d":"2021-04-29","w":18e3,"s":415e3,"e":179e3,"m":46e3,"f":7000,"a":208e3},{"d":"2021-04-30","w":18e3,"s":420e3,"e":187e3,"m":46e3,"f":7000,"a":217e3},{"d":"2021-05-01","w":18e3,"s":425e3,"e":179e3,"m":46e3,"f":7000,"a":208e3},{"d":"2021-05-02","w":18e3,"s":430e3,"e":139e3,"m":46e3,"f":7000,"a":161e3},
{"d":"2021-05-03","w":18e3,"s":420e3,"e":101e3,"m":40e3,"f":7000,"a":122e3},{"d":"2021-05-04","w":18e3,"s":415e3,"e":137e3,"m":40e3,"f":7000,"a":165e3},{"d":"2021-05-05","w":18e3,"s":420e3,"e":151e3,"m":40e3,"f":7000,"a":183e3},{"d":"2021-05-06","w":18e3,"s":430e3,"e":158e3,"m":40e3,"f":7000,"a":191e3},{"d":"2021-05-07","w":18e3,"s":435e3,"e":166e3,"m":40e3,"f":7000,"a":200e3},{"d":"2021-05-08","w":18e3,"s":430e3,"e":158e3,"m":40e3,"f":7000,"a":191e3},{"d":"2021-05-09","w":18e3,"s":420e3,"e":122e3,"m":40e3,"f":7000,"a":148e3},
{"d":"2021-05-10","w":19e3,"s":390e3,"e":91e3,"m":35e3,"f":7000,"a":111e3},{"d":"2021-05-11","w":19e3,"s":380e3,"e":124e3,"m":35e3,"f":7000,"a":151e3},{"d":"2021-05-12","w":19e3,"s":370e3,"e":137e3,"m":35e3,"f":7000,"a":167e3},{"d":"2021-05-13","w":19e3,"s":360e3,"e":143e3,"m":35e3,"f":7000,"a":175e3},{"d":"2021-05-14","w":19e3,"s":350e3,"e":150e3,"m":35e3,"f":7000,"a":183e3},{"d":"2021-05-15","w":19e3,"s":340e3,"e":143e3,"m":35e3,"f":7000,"a":175e3},{"d":"2021-05-16","w":19e3,"s":330e3,"e":111e3,"m":35e3,"f":7000,"a":135e3},
{"d":"2021-05-17","w":19e3,"s":300e3,"e":70e3,"m":30e3,"f":6000,"a":98e3},{"d":"2021-05-18","w":19e3,"s":290e3,"e":95e3,"m":30e3,"f":6000,"a":130e3}
]},
"transform":[
{"fold":["w","s","e","m","f","a","o"],"as":["k","v"]},
{"filter":"datum.v > 0"},
{"lookup":"k","from":{"data":{"values":[
{"k":"o","r":"Other","ord":0},{"k":"w","r":"Western Pacific Region","ord":1},{"k":"s","r":"South-East Asia Region","ord":2},{"k":"e","r":"European Region","ord":3},{"k":"m","r":"Eastern Mediterranean Region","ord":4},{"k":"f","r":"African Region","ord":5},{"k":"a","r":"Region of the Americas","ord":6}]},"key":"k","fields":["r","ord"]}}
],
"mark":{"type":"bar","size":1.85},
"encoding":{
"x":{"field":"d","type":"temporal","scale":{"domain":[1575806400000,1623693600000]},
"axis":{"title":"Date of report","format":"%b","tickCount":{"interval":"month","step":1},"labelFlush":false,"labelOverlap":false,"labelPadding":6,"titlePadding":5}},
"y":{"field":"v","type":"quantitative","stack":"zero","scale":{"domain":[-46700,964000],"nice":false,"zero":false},
"axis":{"title":"New cases","values":[0,250000,500000,750000],"format":",.0f","labelPadding":5.5,"titlePadding":8}},
"color":{"field":"r","type":"nominal",
"scale":{"domain":["African Region","Region of the Americas","Eastern Mediterranean Region","European Region","South-East Asia Region","Western Pacific Region","Other"],"range":["#66C2A5","#FC8D62","#E78AC3","#8DA0CB","#A6D854","#E5C494","#CCCCCC"]},
"legend":{"title":"WHO Region","values":["African Region","European Region","Western Pacific Region","Eastern Mediterranean Region","South-East Asia Region","Other"],
"orient":"bottom","direction":"horizontal","columns":3,"titleOrient":"left","titleAnchor":"middle","titleBaseline":"middle","titleFontSize":24,"titleFontWeight":"normal","titleColor":"#000","titlePadding":14,
"labelFontSize":20.5,"labelColor":"#1e1e1e","labelOffset":13,"labelLimit":500,"symbolType":"square","symbolSize":600,"symbolStrokeWidth":0,"symbolOpacity":1,"rowPadding":2,"columnPadding":22,"offset":30}},
"order":{"field":"ord","type":"quantitative"}
}
}]}]}]}
